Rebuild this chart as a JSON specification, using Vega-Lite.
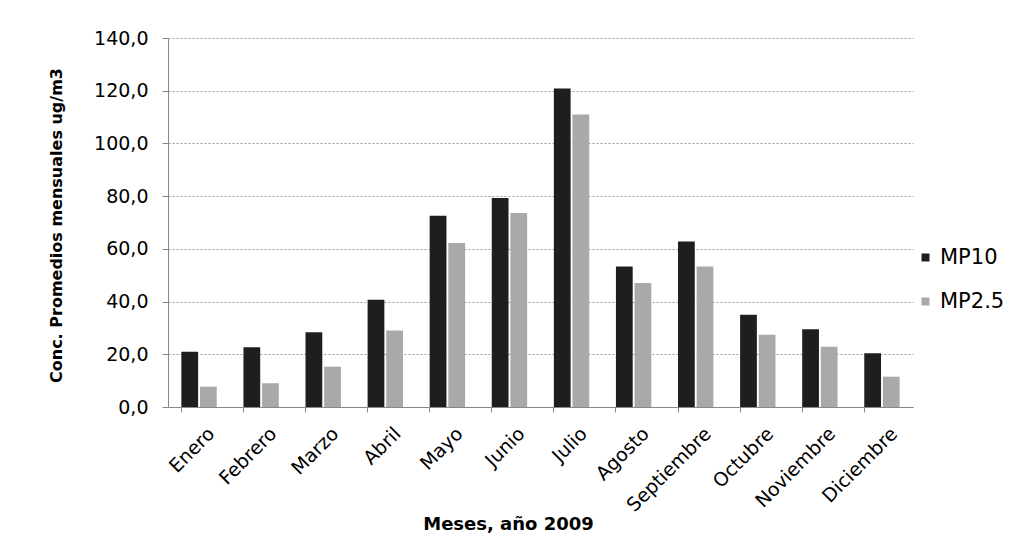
{
  "$schema": "https://vega.github.io/schema/vega-lite/v6.json",
  "autosize": {"type": "none"},
  "width": 745,
  "height": 369,
  "padding": {"left": 168, "top": 38, "right": 116, "bottom": 131},
  "background": "white",
  "config": {
    "font": "DejaVu Sans",
    "view": {"stroke": null}
  },
  "data": {
    "values": [
      {"mes": "Enero", "serie": "MP10", "valor": 21.0},
      {"mes": "Enero", "serie": "MP2.5", "valor": 7.7},
      {"mes": "Febrero", "serie": "MP10", "valor": 22.7},
      {"mes": "Febrero", "serie": "MP2.5", "valor": 9.0},
      {"mes": "Marzo", "serie": "MP10", "valor": 28.4},
      {"mes": "Marzo", "serie": "MP2.5", "valor": 15.3},
      {"mes": "Abril", "serie": "MP10", "valor": 40.7},
      {"mes": "Abril", "serie": "MP2.5", "valor": 29.0},
      {"mes": "Mayo", "serie": "MP10", "valor": 72.6},
      {"mes": "Mayo", "serie": "MP2.5", "valor": 62.2},
      {"mes": "Junio", "serie": "MP10", "valor": 79.3},
      {"mes": "Junio", "serie": "MP2.5", "valor": 73.6},
      {"mes": "Julio", "serie": "MP10", "valor": 120.8},
      {"mes": "Julio", "serie": "MP2.5", "valor": 111.0},
      {"mes": "Agosto", "serie": "MP10", "valor": 53.3},
      {"mes": "Agosto", "serie": "MP2.5", "valor": 47.0},
      {"mes": "Septiembre", "serie": "MP10", "valor": 62.8},
      {"mes": "Septiembre", "serie": "MP2.5", "valor": 53.3},
      {"mes": "Octubre", "serie": "MP10", "valor": 35.0},
      {"mes": "Octubre", "serie": "MP2.5", "valor": 27.4},
      {"mes": "Noviembre", "serie": "MP10", "valor": 29.5},
      {"mes": "Noviembre", "serie": "MP2.5", "valor": 22.9},
      {"mes": "Diciembre", "serie": "MP10", "valor": 20.4},
      {"mes": "Diciembre", "serie": "MP2.5", "valor": 11.5}
    ]
  },
  "mark": {"type": "bar"},
  "encoding": {
    "x": {
      "field": "mes",
      "type": "nominal",
      "sort": null,
      "scale": {"paddingInner": 0.43, "paddingOuter": 0.215},
      "axis": {
        "title": "Meses, año 2009",
        "titleFontSize": 18,
        "titleFontWeight": "bold",
        "titleColor": "black",
        "titleX": 340,
        "titleY": 122,
        "titleBaseline": "alphabetic",
        "titleAlign": "center",
        "labelAngle": -45,
        "labelAlign": "right",
        "labelBaseline": "top",
        "labelFontSize": 19,
        "labelColor": "black",
        "labelPadding": 12,
        "labelOffset": 6,
        "bandPosition": 0,
        "tickSize": 5,
        "tickColor": "#888888",
        "domainColor": "#888888",
        "grid": false
      }
    },
    "xOffset": {
      "field": "serie",
      "type": "nominal",
      "scale": {"paddingInner": 0.1}
    },
    "y": {
      "field": "valor",
      "type": "quantitative",
      "scale": {"domain": [0, 140]},
      "axis": {
        "title": "Conc. Promedios mensuales ug/m3",
        "titleFontSize": 16,
        "titleFontWeight": "bold",
        "titleColor": "black",
        "titleAngle": -90,
        "titleX": -112,
        "titleY": 187,
        "titleAlign": "center",
        "titleBaseline": "middle",
        "values": [0, 20, 40, 60, 80, 100, 120, 140],
        "labelExpr": "replace(format(datum.value, '.1f'), '.', ',')",
        "labelFontSize": 19,
        "labelColor": "black",
        "labelPadding": 14,
        "tickSize": 6,
        "tickColor": "#888888",
        "domainColor": "#888888",
        "grid": true,
        "gridColor": "#9a9a9a",
        "gridDash": [2, 2],
        "gridWidth": 1
      }
    },
    "color": {
      "field": "serie",
      "type": "nominal",
      "scale": {"domain": ["MP10", "MP2.5"], "range": ["#1e1e1e", "#a9a9a9"]},
      "legend": {
        "title": null,
        "orient": "none",
        "legendX": 747,
        "legendY": 209,
        "symbolType": "square",
        "symbolSize": 64,
        "symbolStrokeWidth": 0,
        "labelFontSize": 21,
        "labelColor": "black",
        "labelOffset": 4,
        "rowPadding": 22
      }
    }
  }
}
